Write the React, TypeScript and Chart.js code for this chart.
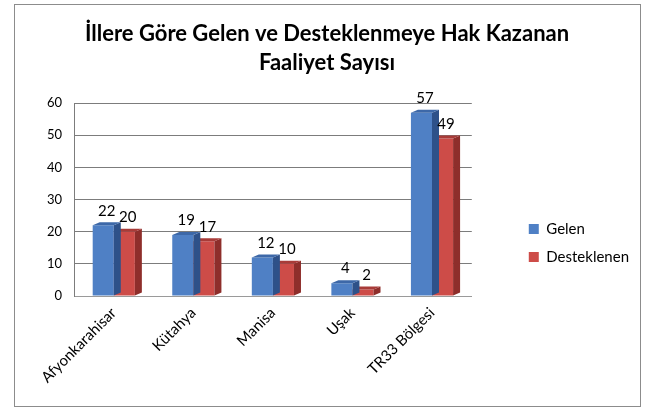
import React, { useEffect, useRef } from "react";
import { Chart, registerables } from "chart.js";

Chart.register(...registerables);

const categories = ["Afyonkarahisar", "Kütahya", "Manisa", "Uşak", "TR33 Bölgesi"];
const gelen = [22, 19, 12, 4, 57];
const desteklenen = [20, 17, 10, 2, 49];
const yTicks = [0, 10, 20, 30, 40, 50, 60];
const titleLines = ["İllere Göre Gelen ve Desteklenmeye Hak Kazanan", "Faaliyet Sayısı"];
const seriesNames = ["Gelen", "Desteklenen"];

const frontColors = ["#4f80c5", "#cd4c48"];
const sideColors = ["#2e5189", "#8e2e2b"];
const topColors = ["#3d68a8", "#a83b38"];
const FONT = "Lato, 'Open Sans', sans-serif";

const DX = 7;
const DY = 3;
const LEGEND_SHIFT = 38;

const depthPlugin = {
  id: "depth3d",
  afterDatasetDraw(chart: any, args: any) {
    const meta = chart.getDatasetMeta(args.index);
    const ctx = chart.ctx;
    meta.data.forEach((bar: any) => {
      const { x, y, base, width } = bar.getProps(["x", "y", "base", "width"], true);
      const l = x - width / 2;
      const r = x + width / 2;
      ctx.save();
      ctx.fillStyle = sideColors[args.index];
      ctx.beginPath();
      ctx.moveTo(r, y);
      ctx.lineTo(r + DX, y - DY);
      ctx.lineTo(r + DX, base - DY);
      ctx.lineTo(r, base);
      ctx.closePath();
      ctx.fill();
      ctx.fillStyle = topColors[args.index];
      ctx.beginPath();
      ctx.moveTo(l, y);
      ctx.lineTo(l + DX, y - DY);
      ctx.lineTo(r + DX, y - DY);
      ctx.lineTo(r, y);
      ctx.closePath();
      ctx.fill();
      ctx.restore();
    });
  },
};

const valueLabelPlugin = {
  id: "valueLabels",
  afterDatasetsDraw(chart: any) {
    const ctx = chart.ctx;
    ctx.save();
    ctx.font = `15px ${FONT}`;
    ctx.fillStyle = "#000";
    ctx.textAlign = "center";
    ctx.textBaseline = "bottom";
    chart.data.datasets.forEach((ds: any, i: number) => {
      const meta = chart.getDatasetMeta(i);
      meta.data.forEach((bar: any, j: number) => {
        const { x, y } = bar.getProps(["x", "y"], true);
        ctx.fillText(String(ds.data[j]), x + DX / 2, y - DY - 4);
      });
    });
    ctx.restore();
  },
};

// let the legend keep its natural width and sit lower, as in the reference
const legendFitPlugin = {
  id: "legendFit",
  afterInit(chart: any) {
    const lg = chart.legend;
    if (!lg) return;
    const origFit = lg.fit.bind(lg);
    lg.fit = () => {
      origFit();
      if (lg.columnSizes && lg.columnSizes[0]) {
        lg.width = lg.columnSizes[0].width + lg.options.labels.padding + 10;
      }
    };
  },
  afterLayout(chart: any) {
    const lg = chart.legend;
    if (!lg) return;
    lg.top += LEGEND_SHIFT;
    lg.bottom += LEGEND_SHIFT;
  },
};

export default function App() {
  const ref = useRef<HTMLCanvasElement | null>(null);

  useEffect(() => {
    if (!ref.current) return;
    const chart = new Chart(ref.current, {
      type: "bar",
      data: {
        labels: categories,
        datasets: [
          {
            label: seriesNames[0],
            data: gelen,
            backgroundColor: frontColors[0],
            categoryPercentage: 0.53,
            barPercentage: 1.0,
          },
          {
            label: seriesNames[1],
            data: desteklenen,
            backgroundColor: frontColors[1],
            categoryPercentage: 0.53,
            barPercentage: 1.0,
          },
        ],
      },
      options: {
        responsive: false,
        animation: false,
        layout: { padding: 0 },
        plugins: {
          title: {
            display: true,
            text: titleLines,
            color: "#000",
            font: { family: FONT, size: 22, weight: "bold", lineHeight: 1.32 },
            padding: { top: 14, bottom: 26 },
          },
          legend: {
            position: "right",
            labels: {
              boxWidth: 10,
              boxHeight: 10,
              padding: 13,
              color: "#000",
              font: { family: FONT, size: 15 },
            },
          },
          tooltip: { enabled: false },
        },
        scales: {
          x: {
            grid: { display: false, drawTicks: false },
            border: { display: true, color: "#9a9a9a" },
            ticks: {
              minRotation: 45,
              maxRotation: 45,
              color: "#000",
              padding: 8,
              font: { family: FONT, size: 15 },
            },
            afterFit: (s: any) => {
              s.height = 109;
            },
          },
          y: {
            min: 0,
            max: 60,
            grid: { color: "#7c7c7c", drawTicks: false },
            border: { display: true, color: "#7c7c7c" },
            ticks: {
              color: "#000",
              padding: 12,
              font: { family: FONT, size: 13 },
            },
            afterBuildTicks: (s: any) => {
              s.ticks = yTicks.map((v) => ({ value: v }));
            },
            afterFit: (s: any) => {
              s.width = 59;
            },
          },
          y2: {
            position: "right",
            display: true,
            grid: { display: false, drawTicks: false },
            border: { display: false },
            ticks: { display: false },
            afterFit: (s: any) => {
              s.width = 44;
            },
          },
        },
      },
      plugins: [legendFitPlugin, depthPlugin, valueLabelPlugin],
    });
    return () => chart.destroy();
  }, []);

  return (
    <div style={{ position: "absolute", left: 0, top: 0, width: 647, height: 409, background: "#fff" }}>
      <div
        style={{
          position: "absolute",
          left: 14,
          top: 4,
          width: 627,
          height: 403,
          border: "1px solid #8c8c8c",
          boxSizing: "border-box",
        }}
      />
      <div style={{ position: "absolute", left: 15, top: 5, width: 624, height: 400 }}>
        <canvas ref={ref} width={624} height={400} />
      </div>
    </div>
  );
}
